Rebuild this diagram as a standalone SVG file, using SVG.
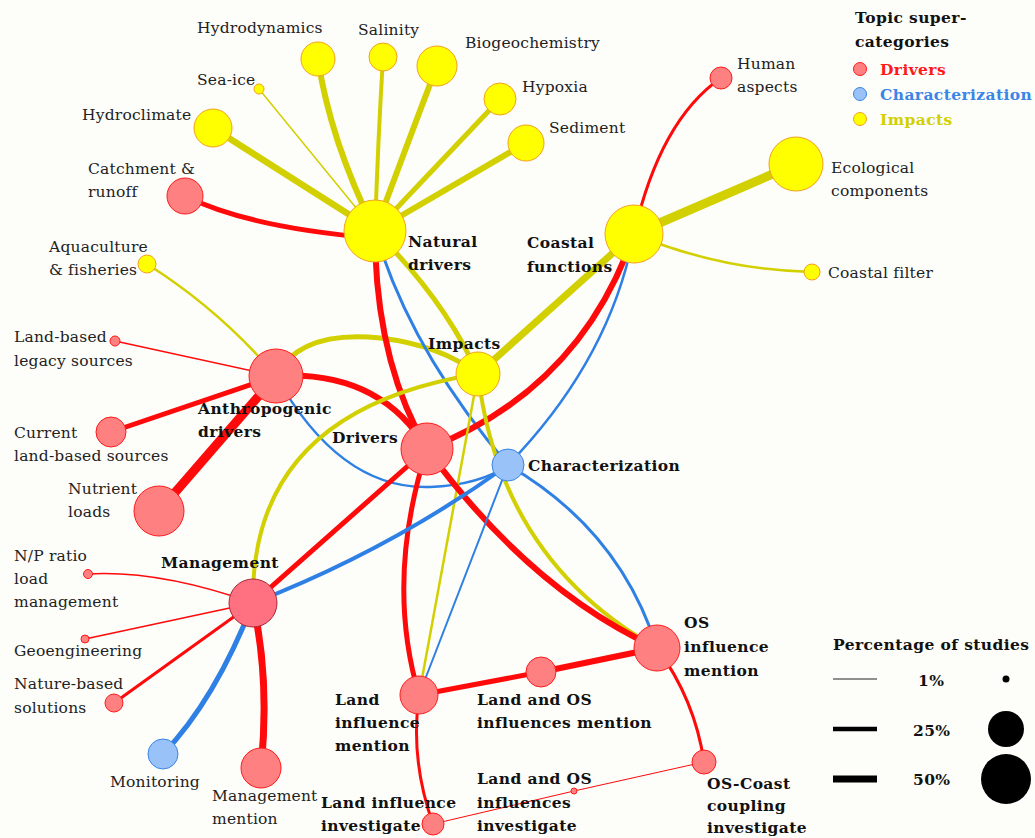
<svg xmlns="http://www.w3.org/2000/svg" width="1035" height="838" viewBox="0 0 1035 838">
<style>
text{font-family:"DejaVu Serif","Liberation Serif",serif;font-size:15.5px;letter-spacing:0.2px;fill:#222}
.b{font-weight:bold;font-size:15.5px;letter-spacing:0.4px;fill:#111}
.r{stroke:#ff0a0a;fill:none}
.u{stroke:#2f80e4;fill:none}
.y{stroke:#d2d000;fill:none}
.nd{fill:#ff8080;stroke:#ff1a1a;stroke-width:1}
.nc{fill:#99c2f8;stroke:#3a85e6;stroke-width:1}
.ni{fill:#ffff00;stroke:#f3a020;stroke-width:1}
</style>
<rect width="1035" height="838" fill="#fdfdfa"/>
<g id="connectors" stroke-linecap="round">
<path class="y" stroke-width="6" d="M375,231 Q330,140 318,59"/>
<path class="y" stroke-width="1.5" d="M375,231 L259,89"/>
<path class="y" stroke-width="6.5" d="M375,231 L213,128"/>
<path class="r" stroke-width="5" d="M185,196 Q250,228 375,238"/>
<path class="y" stroke-width="4" d="M375,231 Q378,140 383,57"/>
<path class="y" stroke-width="6" d="M375,231 Q405,150 437,66"/>
<path class="y" stroke-width="5" d="M375,231 L500,99"/>
<path class="y" stroke-width="6" d="M375,231 L526,143"/>
<path class="r" stroke-width="3" d="M721,78 Q660,120 634,234"/>
<path class="y" stroke-width="9" d="M634,234 L796,164"/>
<path class="y" stroke-width="2.5" d="M634,234 Q720,270 812,272"/>
<path class="y" stroke-width="2.5" d="M147,264 Q220,310 276,376"/>
<path class="r" stroke-width="1.5" d="M115,341 L276,376"/>
<path class="r" stroke-width="5" d="M111,432 L276,376"/>
<path class="r" stroke-width="9" d="M159,511 L276,376"/>
<path class="y" stroke-width="5" d="M276,376 Q300,330 380,338 Q440,345 478,374"/>
<path class="r" stroke-width="6" d="M276,376 Q380,370 427,449"/>
<path class="u" stroke-width="2.5" d="M276,376 Q340,490 430,487 Q480,485 508,465"/>
<path class="r" stroke-width="6" d="M375,231 Q375,360 427,449"/>
<path class="y" stroke-width="5" d="M375,231 Q445,300 478,374"/>
<path class="u" stroke-width="3" d="M375,231 Q410,350 508,465"/>
<path class="y" stroke-width="7" d="M634,234 L478,374"/>
<path class="r" stroke-width="6" d="M634,234 Q580,390 427,449"/>
<path class="u" stroke-width="2.5" d="M634,234 Q610,360 508,465"/>
<path class="y" stroke-width="4" d="M478,374 Q250,410 253,603"/>
<path class="y" stroke-width="2.5" d="M478,374 L419,695"/>
<path class="y" stroke-width="4" d="M478,374 Q500,560 657,648"/>
<path class="r" stroke-width="5" d="M427,449 L253,603"/>
<path class="r" stroke-width="5" d="M427,449 Q385,580 419,695"/>
<path class="r" stroke-width="6" d="M427,449 Q530,590 657,648"/>
<path class="u" stroke-width="4" d="M508,465 Q390,550 253,603"/>
<path class="u" stroke-width="2" d="M508,465 L419,695"/>
<path class="u" stroke-width="3" d="M508,465 Q620,530 657,648"/>
<path class="r" stroke-width="1.5" d="M253,603 Q160,570 88,574"/>
<path class="r" stroke-width="1.5" d="M253,603 L85,639"/>
<path class="r" stroke-width="3" d="M253,603 L114,703"/>
<path class="u" stroke-width="5" d="M253,603 Q215,700 163,754"/>
<path class="r" stroke-width="7" d="M253,603 Q270,680 261,768"/>
<path class="r" stroke-width="5" d="M419,695 L541,672"/>
<path class="r" stroke-width="3" d="M419,695 Q410,760 433,824"/>
<path class="r" stroke-width="6" d="M541,672 L657,648"/>
<path class="r" stroke-width="3" d="M657,648 Q695,700 704,762"/>
<path class="r" stroke-width="1" d="M433,824 L574,791 L704,762"/>
</g>
<g id="n-hydrodynamics"><circle class="ni" cx="318" cy="59" r="17"/><text x="197" y="33">Hydrodynamics</text></g>
<g id="n-seaice"><circle class="ni" cx="259" cy="89" r="5"/><text x="197" y="85">Sea-ice</text></g>
<g id="n-hydroclimate"><circle class="ni" cx="213" cy="128" r="19"/><text x="82" y="120">Hydroclimate</text></g>
<g id="n-catchment"><circle class="nd" cx="185" cy="196" r="18"/><text x="88" y="174">Catchment &amp;</text><text x="88" y="197">runoff</text></g>
<g id="n-aquaculture"><circle class="ni" cx="147" cy="264" r="9"/><text x="49" y="252">Aquaculture</text><text x="49" y="275">&amp; fisheries</text></g>
<g id="n-salinity"><circle class="ni" cx="383" cy="57" r="14"/><text x="358" y="35">Salinity</text></g>
<g id="n-biogeochemistry"><circle class="ni" cx="437" cy="66" r="20"/><text x="465" y="48">Biogeochemistry</text></g>
<g id="n-hypoxia"><circle class="ni" cx="500" cy="99" r="16"/><text x="522" y="92">Hypoxia</text></g>
<g id="n-sediment"><circle class="ni" cx="526" cy="143" r="18"/><text x="549" y="133">Sediment</text></g>
<g id="n-natural"><circle class="ni" cx="375" cy="231" r="31"/><text class="b" x="408" y="247">Natural</text><text class="b" x="408" y="270">drivers</text></g>
<g id="n-coastal"><circle class="ni" cx="634" cy="234" r="29"/><text class="b" x="527" y="248">Coastal</text><text class="b" x="527" y="272">functions</text></g>
<g id="n-human"><circle class="nd" cx="721" cy="78" r="11"/><text x="737" y="69">Human</text><text x="737" y="92">aspects</text></g>
<g id="n-ecological"><circle class="ni" cx="796" cy="164" r="27"/><text x="831" y="173">Ecological</text><text x="831" y="196">components</text></g>
<g id="n-filter"><circle class="ni" cx="812" cy="272" r="8"/><text x="828" y="278">Coastal filter</text></g>
<g id="n-legacy"><circle class="nd" cx="115" cy="341" r="5"/><text x="14" y="342">Land-based</text><text x="14" y="366">legacy sources</text></g>
<g id="n-current"><circle class="nd" cx="111" cy="432" r="15"/><text x="14" y="438">Current</text><text x="14" y="461">land-based sources</text></g>
<g id="n-nutrient"><circle class="nd" cx="159" cy="511" r="25"/><text x="68" y="494">Nutrient</text><text x="68" y="517">loads</text></g>
<g id="n-anthropogenic"><circle class="nd" cx="276" cy="376" r="27"/><text class="b" x="198" y="414">Anthropogenic</text><text class="b" x="198" y="437">drivers</text></g>
<g id="n-impacts"><circle class="ni" cx="478" cy="374" r="22"/><text class="b" x="428" y="349">Impacts</text></g>
<g id="n-drivers"><circle class="nd" cx="427" cy="449" r="26"/><text class="b" x="332" y="443">Drivers</text></g>
<g id="n-characterization"><circle class="nc" cx="508" cy="465" r="16"/><text class="b" x="528" y="471">Characterization</text></g>
<g id="n-management"><circle cx="253" cy="603" r="24" fill="#ff7080" stroke="#a82838" stroke-width="1"/><text class="b" x="161" y="568">Management</text></g>
<g id="n-np"><circle class="nd" cx="88" cy="574" r="4.5"/><text x="14" y="561">N/P ratio</text><text x="14" y="584">load</text><text x="14" y="607">management</text></g>
<g id="n-geo"><circle class="nd" cx="85" cy="639" r="4"/><text x="14" y="656">Geoengineering</text></g>
<g id="n-nature"><circle class="nd" cx="114" cy="703" r="9"/><text x="14" y="689">Nature-based</text><text x="14" y="713">solutions</text></g>
<g id="n-monitoring"><circle class="nc" cx="163" cy="754" r="15"/><text x="110" y="787">Monitoring</text></g>
<g id="n-mgmtmention"><circle class="nd" cx="261" cy="768" r="20"/><text x="212" y="801">Management</text><text x="212" y="824">mention</text></g>
<g id="n-landmention"><circle class="nd" cx="419" cy="695" r="19"/><text class="b" x="335" y="705">Land</text><text class="b" x="335" y="728">influence</text><text class="b" x="335" y="751">mention</text></g>
<g id="n-landosmention"><circle class="nd" cx="541" cy="672" r="15"/><text class="b" x="477" y="705">Land and OS</text><text class="b" x="477" y="728">influences mention</text></g>
<g id="n-osmention"><circle class="nd" cx="657" cy="648" r="23"/><text class="b" x="684" y="628">OS</text><text class="b" x="684" y="652">influence</text><text class="b" x="684" y="676">mention</text></g>
<g id="n-landinv"><circle class="nd" cx="433" cy="824" r="11"/><text class="b" x="321" y="808">Land influence</text><text class="b" x="321" y="831">investigate</text></g>
<g id="n-landosinv"><circle class="nd" cx="574" cy="791" r="3"/><text class="b" x="477" y="784">Land and OS</text><text class="b" x="477" y="808">influences</text><text class="b" x="477" y="831">investigate</text></g>
<g id="n-oscoast"><circle class="nd" cx="704" cy="762" r="12"/><text class="b" x="707" y="789">OS-Coast</text><text class="b" x="707" y="811">coupling</text><text class="b" x="707" y="833">investigate</text></g>
<g id="legend-categories">
<text class="b" x="855" y="23">Topic super-</text><text class="b" x="855" y="47">categories</text>
<circle class="nd" cx="860" cy="69" r="6.5"/><text class="b" x="880" y="75" style="fill:#ff1a1a">Drivers</text>
<circle class="nc" cx="860" cy="94" r="6.5"/><text class="b" x="880" y="100" style="fill:#3a85e6">Characterization</text>
<circle class="ni" cx="860" cy="119" r="6.5"/><text class="b" x="880" y="125" style="fill:#d2d000">Impacts</text>
</g>
<g id="legend-size">
<text class="b" x="833" y="650">Percentage of studies</text>
<line x1="833" y1="679" x2="877" y2="679" stroke="#222" stroke-width="1.2"/>
<line x1="833" y1="729" x2="877" y2="729" stroke="#000" stroke-width="4.5"/>
<line x1="833" y1="779" x2="877" y2="779" stroke="#000" stroke-width="7"/>
<text class="b" x="918" y="686">1%</text>
<text class="b" x="913" y="736">25%</text>
<text class="b" x="913" y="785">50%</text>
<circle cx="1006" cy="679" r="3.5" fill="#000"/>
<circle cx="1006" cy="729" r="18" fill="#000"/>
<circle cx="1006" cy="779" r="25" fill="#000"/>
</g>
</svg>
